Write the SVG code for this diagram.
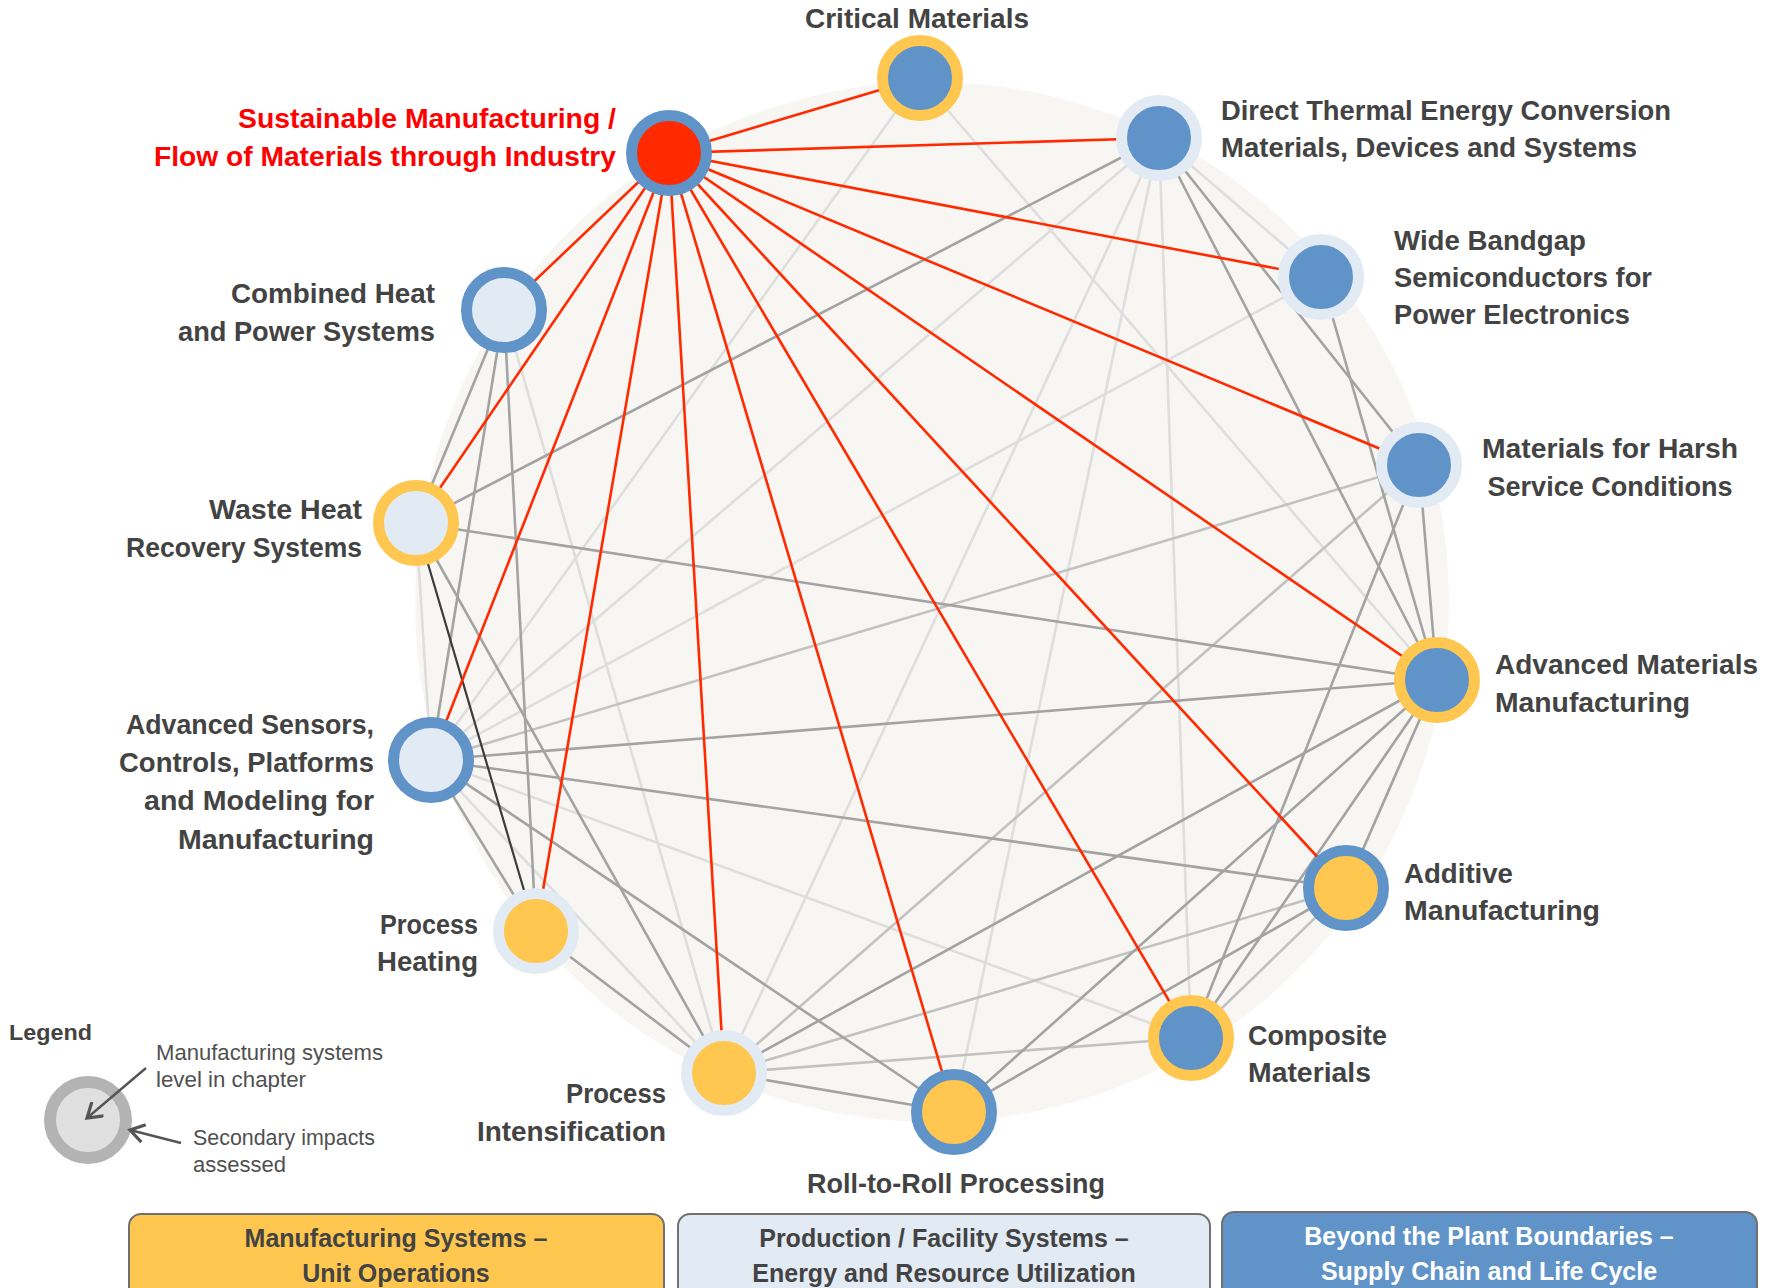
<svg xmlns="http://www.w3.org/2000/svg" width="1775" height="1288" viewBox="0 0 1775 1288">
<defs>
<style>
.lbl{font-family:"Liberation Sans",Arial,sans-serif;font-weight:bold;font-size:28px;fill:#434343}
.red{fill:#FF0000}
.leg{font-family:"Liberation Sans",Arial,sans-serif;font-size:22px;fill:#505050}
.box{font-family:"Liberation Sans",Arial,sans-serif;font-weight:bold;font-size:25px;fill:#434343;text-anchor:middle}
.r{stroke:#FF2A00;stroke-width:2.6;fill:none}
.m{stroke:#A3A3A3;stroke-width:2.6;fill:none}
.lm{stroke:#C2C2C2;stroke-width:2.6;fill:none}
.l{stroke:#DEDEDE;stroke-width:2.6;fill:none}
.d{stroke:#3C3C3C;stroke-width:2.2;fill:none}
.ring{stroke-width:11}
.bl{stroke:#6094C8}
.ye{stroke:#FFC74F}
.lb{stroke:#E2EAF4}
.fb{fill:#6094C8}
.fy{fill:#FFC74F}
.fl{fill:#E2EAF4}
.fr{fill:#FF2A00}
</style>
<marker id="chev" viewBox="0 0 20 20" refX="17" refY="10" markerWidth="20" markerHeight="20" markerUnits="userSpaceOnUse" orient="auto">
<path d="M3,1 L17,10 L3,19" fill="none" stroke="#555555" stroke-width="3.2"/>
</marker>
</defs>
<rect width="1775" height="1288" fill="#FFFFFF"/>
<ellipse cx="932" cy="602" rx="517" ry="520" fill="#F7F6F2"/>
<g id="connectors">
<line class="l" x1="920" y1="78" x2="431" y2="760"/>
<line class="l" x1="920" y1="78" x2="1437" y2="680"/>
<line class="l" x1="1159" y1="138" x2="1321" y2="277"/>
<line class="l" x1="1159" y1="138" x2="431" y2="760"/>
<line class="l" x1="1159" y1="138" x2="724" y2="1073"/>
<line class="l" x1="1159" y1="138" x2="954" y2="1112"/>
<line class="l" x1="1159" y1="138" x2="1191" y2="1038"/>
<line class="l" x1="1321" y1="277" x2="431" y2="760"/>
<line class="l" x1="431" y1="760" x2="416" y2="523"/>
<line class="l" x1="504" y1="310" x2="724" y2="1073"/>
<line class="l" x1="431" y1="760" x2="724" y2="1073"/>
<line class="l" x1="431" y1="760" x2="1191" y2="1038"/>
<line class="lm" x1="1419" y1="465" x2="431" y2="760"/>
<line class="lm" x1="1419" y1="465" x2="724" y2="1073"/>
<line class="lm" x1="1346" y1="888" x2="724" y2="1073"/>
<line class="lm" x1="1191" y1="1038" x2="724" y2="1073"/>
<line class="lm" x1="1346" y1="888" x2="1191" y2="1038"/>
<line class="m" x1="1159" y1="138" x2="416" y2="523"/>
<line class="m" x1="1159" y1="138" x2="1419" y2="465"/>
<line class="m" x1="1159" y1="138" x2="1437" y2="680"/>
<line class="m" x1="1321" y1="277" x2="1437" y2="680"/>
<line class="m" x1="1419" y1="465" x2="1437" y2="680"/>
<line class="m" x1="1419" y1="465" x2="1191" y2="1038"/>
<line class="m" x1="416" y1="523" x2="1437" y2="680"/>
<line class="m" x1="431" y1="760" x2="1437" y2="680"/>
<line class="m" x1="431" y1="760" x2="1346" y2="888"/>
<line class="m" x1="431" y1="760" x2="504" y2="310"/>
<line class="m" x1="431" y1="760" x2="536" y2="931"/>
<line class="m" x1="431" y1="760" x2="954" y2="1112"/>
<line class="m" x1="504" y1="310" x2="416" y2="523"/>
<line class="m" x1="504" y1="310" x2="536" y2="931"/>
<line class="m" x1="416" y1="523" x2="724" y2="1073"/>
<line class="m" x1="536" y1="931" x2="724" y2="1073"/>
<line class="m" x1="1437" y1="680" x2="724" y2="1073"/>
<line class="m" x1="1437" y1="680" x2="954" y2="1112"/>
<line class="m" x1="1437" y1="680" x2="1191" y2="1038"/>
<line class="m" x1="1437" y1="680" x2="1346" y2="888"/>
<line class="m" x1="1346" y1="888" x2="954" y2="1112"/>
<line class="m" x1="724" y1="1073" x2="954" y2="1112"/>
<line class="d" x1="416" y1="523" x2="536" y2="931"/>
<line class="r" x1="669" y1="153" x2="920" y2="78"/>
<line class="r" x1="669" y1="153" x2="1159" y2="138"/>
<line class="r" x1="669" y1="153" x2="1321" y2="277"/>
<line class="r" x1="669" y1="153" x2="1419" y2="465"/>
<line class="r" x1="669" y1="153" x2="1437" y2="680"/>
<line class="r" x1="669" y1="153" x2="1346" y2="888"/>
<line class="r" x1="669" y1="153" x2="1191" y2="1038"/>
<line class="r" x1="669" y1="153" x2="954" y2="1112"/>
<line class="r" x1="669" y1="153" x2="724" y2="1073"/>
<line class="r" x1="669" y1="153" x2="536" y2="931"/>
<line class="r" x1="669" y1="153" x2="431" y2="760"/>
<line class="r" x1="669" y1="153" x2="416" y2="523"/>
<line class="r" x1="669" y1="153" x2="504" y2="310"/>
</g>
<g id="node-sustainable-manufacturing">
<circle class="ring bl fr" cx="669" cy="153" r="37.5"/>
<text class="lbl red" text-anchor="end" x="616" y="128" textLength="378" lengthAdjust="spacingAndGlyphs">Sustainable Manufacturing /</text>
<text class="lbl red" text-anchor="end" x="616" y="166" textLength="462" lengthAdjust="spacingAndGlyphs">Flow of Materials through Industry</text>
</g>
<g id="node-critical-materials">
<circle class="ring ye fb" cx="920" cy="78" r="37.5"/>
<text class="lbl" text-anchor="middle" x="917" y="28" textLength="224" lengthAdjust="spacingAndGlyphs">Critical Materials</text>
</g>
<g id="node-direct-thermal">
<circle class="ring lb fb" cx="1159" cy="138" r="37.5"/>
<text class="lbl" x="1221" y="120" textLength="450" lengthAdjust="spacingAndGlyphs">Direct Thermal Energy Conversion</text>
<text class="lbl" x="1221" y="157" textLength="416" lengthAdjust="spacingAndGlyphs">Materials, Devices and Systems</text>
</g>
<g id="node-wide-bandgap">
<circle class="ring lb fb" cx="1321" cy="277" r="37.5"/>
<text class="lbl" x="1394" y="250" textLength="192" lengthAdjust="spacingAndGlyphs">Wide Bandgap</text>
<text class="lbl" x="1394" y="287" textLength="258" lengthAdjust="spacingAndGlyphs">Semiconductors for</text>
<text class="lbl" x="1394" y="324" textLength="236" lengthAdjust="spacingAndGlyphs">Power Electronics</text>
</g>
<g id="node-harsh-service">
<circle class="ring lb fb" cx="1419" cy="465" r="37.5"/>
<text class="lbl" text-anchor="middle" x="1610" y="458" textLength="256" lengthAdjust="spacingAndGlyphs">Materials for Harsh</text>
<text class="lbl" text-anchor="middle" x="1610" y="496" textLength="245" lengthAdjust="spacingAndGlyphs">Service Conditions</text>
</g>
<g id="node-advanced-materials">
<circle class="ring ye fb" cx="1437" cy="680" r="37.5"/>
<text class="lbl" x="1495" y="674" textLength="263" lengthAdjust="spacingAndGlyphs">Advanced Materials</text>
<text class="lbl" x="1495" y="712" textLength="195" lengthAdjust="spacingAndGlyphs">Manufacturing</text>
</g>
<g id="node-additive">
<circle class="ring bl fy" cx="1346" cy="888" r="37.5"/>
<text class="lbl" x="1404" y="883" textLength="109" lengthAdjust="spacingAndGlyphs">Additive</text>
<text class="lbl" x="1404" y="920" textLength="196" lengthAdjust="spacingAndGlyphs">Manufacturing</text>
</g>
<g id="node-composite">
<circle class="ring ye fb" cx="1191" cy="1038" r="37.5"/>
<text class="lbl" x="1248" y="1045" textLength="139" lengthAdjust="spacingAndGlyphs">Composite</text>
<text class="lbl" x="1248" y="1082" textLength="123" lengthAdjust="spacingAndGlyphs">Materials</text>
</g>
<g id="node-roll-to-roll">
<circle class="ring bl fy" cx="954" cy="1112" r="37.5"/>
<text class="lbl" text-anchor="middle" x="956" y="1193" textLength="298" lengthAdjust="spacingAndGlyphs">Roll-to-Roll Processing</text>
</g>
<g id="node-process-intensification">
<circle class="ring lb fy" cx="724" cy="1073" r="37.5"/>
<text class="lbl" text-anchor="end" x="666" y="1103" textLength="100" lengthAdjust="spacingAndGlyphs">Process</text>
<text class="lbl" text-anchor="end" x="666" y="1141" textLength="189" lengthAdjust="spacingAndGlyphs">Intensification</text>
</g>
<g id="node-process-heating">
<circle class="ring lb fy" cx="536" cy="931" r="37.5"/>
<text class="lbl" text-anchor="end" x="478" y="934" textLength="98" lengthAdjust="spacingAndGlyphs">Process</text>
<text class="lbl" text-anchor="end" x="478" y="971" textLength="101" lengthAdjust="spacingAndGlyphs">Heating</text>
</g>
<g id="node-advanced-sensors">
<circle class="ring bl fl" cx="431" cy="760" r="37.5"/>
<text class="lbl" text-anchor="end" x="374" y="734" textLength="248" lengthAdjust="spacingAndGlyphs">Advanced Sensors,</text>
<text class="lbl" text-anchor="end" x="374" y="772" textLength="255" lengthAdjust="spacingAndGlyphs">Controls, Platforms</text>
<text class="lbl" text-anchor="end" x="374" y="810" textLength="230" lengthAdjust="spacingAndGlyphs">and Modeling for</text>
<text class="lbl" text-anchor="end" x="374" y="849" textLength="196" lengthAdjust="spacingAndGlyphs">Manufacturing</text>
</g>
<g id="node-waste-heat">
<circle class="ring ye fl" cx="416" cy="523" r="37.5"/>
<text class="lbl" text-anchor="end" x="362" y="519" textLength="153" lengthAdjust="spacingAndGlyphs">Waste Heat</text>
<text class="lbl" text-anchor="end" x="362" y="557" textLength="236" lengthAdjust="spacingAndGlyphs">Recovery Systems</text>
</g>
<g id="node-chp">
<circle class="ring bl fl" cx="504" cy="310" r="37.5"/>
<text class="lbl" text-anchor="end" x="435" y="303" textLength="204" lengthAdjust="spacingAndGlyphs">Combined Heat</text>
<text class="lbl" text-anchor="end" x="435" y="341" textLength="257" lengthAdjust="spacingAndGlyphs">and Power Systems</text>
</g>
<g id="legend">
<text x="9" y="1040" textLength="83" lengthAdjust="spacingAndGlyphs" style="font-family:'Liberation Sans',Arial,sans-serif;font-weight:bold;font-size:22px;fill:#434343">Legend</text>
<circle cx="88" cy="1120" r="38" fill="#E0E0E0" stroke="#B3B3B3" stroke-width="12"/>
<line x1="146" y1="1068" x2="87" y2="1118" stroke="#555555" stroke-width="2.4" marker-end="url(#chev)"/>
<line x1="181" y1="1143" x2="130" y2="1130" stroke="#555555" stroke-width="2.4" marker-end="url(#chev)"/>
<text class="leg" x="156" y="1060" textLength="227" lengthAdjust="spacingAndGlyphs">Manufacturing systems</text>
<text class="leg" x="156" y="1087" textLength="150" lengthAdjust="spacingAndGlyphs">level in chapter</text>
<text class="leg" x="193" y="1145" textLength="182" lengthAdjust="spacingAndGlyphs">Secondary impacts</text>
<text class="leg" x="193" y="1172">assessed</text>
</g>
<g id="category-boxes">
<rect x="129" y="1214" width="535" height="100" rx="12" fill="#FFC74F" stroke="#707070" stroke-width="2"/>
<text class="box" x="396" y="1247">Manufacturing Systems –</text>
<text class="box" x="396" y="1282">Unit Operations</text>
<rect x="678" y="1214" width="532" height="100" rx="12" fill="#E2EAF4" stroke="#707070" stroke-width="2"/>
<text class="box" x="944" y="1247">Production / Facility Systems –</text>
<text class="box" x="944" y="1282">Energy and Resource Utilization</text>
<rect x="1222" y="1212" width="535" height="100" rx="12" fill="#6094C8" stroke="#707070" stroke-width="2"/>
<text class="box" x="1489" y="1245" style="fill:#FFFFFF">Beyond the Plant Boundaries –</text>
<text class="box" x="1489" y="1280" style="fill:#FFFFFF">Supply Chain and Life Cycle</text>
</g>
</svg>
